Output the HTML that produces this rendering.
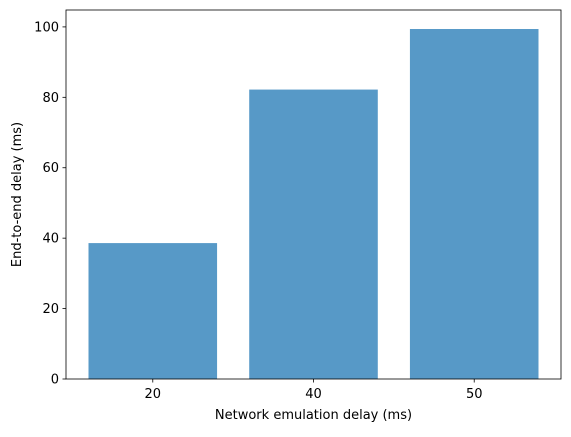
<!DOCTYPE html>
<html><head><meta charset="utf-8"><style>
body{margin:0;background:#fff;font-family:"Liberation Sans","DejaVu Sans",sans-serif;}
svg text{font-family:"DejaVu Sans","Liberation Sans",sans-serif;font-size:13px;fill:#000;}
</style></head><body>
<svg id="chart" width="571" height="432" xmlns="http://www.w3.org/2000/svg"></svg>
<script>
const categories=["20","40","50"];
const values=[38.6,82.2,99.4];
const yTicks=[0,20,40,60,80,100];
const svg=document.getElementById('chart');
const NS='http://www.w3.org/2000/svg';
const L=66,R=561,T=10,B=379;
const xMin=-0.54,xMax=2.54,yMin=0,yMax=104.8;
const xs=v=>L+(v-xMin)/(xMax-xMin)*(R-L);
const ys=v=>B-(v-yMin)/(yMax-yMin)*(B-T);
function mk(tag,attrs,parent){const e=document.createElementNS(NS,tag);for(const k in attrs)e.setAttribute(k,attrs[k]);(parent||svg).appendChild(e);return e;}
const bw=(xs(0.8)-xs(0));
categories.forEach((c,i)=>{
  const r=mk('rect',{x:xs(i)-bw/2,y:ys(values[i]),width:bw,height:ys(0)-ys(values[i]),fill:'#5799c7'});
  
  
  mk('line',{x1:xs(i),x2:xs(i),y1:B,y2:B+3.5,stroke:'#000','stroke-width':0.8});
  const l=mk('text',{x:xs(i),y:B+19,'text-anchor':'middle'});
  l.textContent=c;
  
  
});
yTicks.forEach(v=>{
  mk('line',{x1:L-3.5,x2:L,y1:ys(v),y2:ys(v),stroke:'#000','stroke-width':0.8});
  const l=mk('text',{x:L-7,y:ys(v)+4.5,'text-anchor':'end'});
  l.textContent=v;
  
  
});
const frame=mk('rect',{x:L,y:T,width:R-L,height:B-T,fill:'none',stroke:'#000','stroke-width':0.8});


const xt=mk('text',{x:(L+R)/2,y:419,'text-anchor':'middle'});
xt.textContent='Network emulation delay (ms)';


const yt=mk('text',{x:0,y:0,'text-anchor':'middle',transform:`translate(21,${(T+B)/2}) rotate(-90)`});
yt.textContent='End-to-end delay (ms)';


</script>
</body></html>
